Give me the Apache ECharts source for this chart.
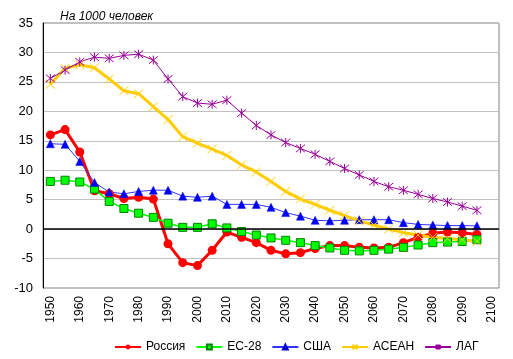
<!DOCTYPE html>
<html><head><meta charset="utf-8">
<script src="https://cdn.jsdelivr.net/npm/echarts@6/dist/echarts.min.js"></script>
<style>html,body{margin:0;padding:0;background:#fff}#c{width:513px;height:359px}</style>
</head><body><div id="c"></div>
<script>
var years = [];
for (var y = 1950; y <= 2100; y += 5) years.push(String(y));
var russia = [16.0,16.9,13.1,6.5,6.0,5.2,5.4,5.1,-2.5,-5.7,-6.2,-3.6,-0.5,-1.4,-2.3,-3.6,-4.2,-4.0,-3.3,-2.8,-2.8,-3.1,-3.2,-3.1,-2.3,-1.4,-0.7,-0.5,-0.6,-0.9];
var eu28 = [8.1,8.3,8.0,6.8,4.7,3.5,2.7,2.0,1.0,0.3,0.3,0.9,0.2,-0.4,-1.0,-1.5,-1.9,-2.3,-2.8,-3.2,-3.6,-3.7,-3.6,-3.4,-3.1,-2.7,-2.3,-2.2,-2.1,-1.8];
var usa = [14.5,14.4,11.5,7.9,6.3,6.0,6.4,6.6,6.6,5.6,5.4,5.6,4.2,4.2,4.2,3.7,2.8,2.2,1.5,1.4,1.5,1.6,1.6,1.6,1.1,0.8,0.7,0.6,0.6,0.55];
var asean = [24.6,27.3,27.9,27.4,25.5,23.5,23.0,20.8,18.6,15.7,14.6,13.6,12.5,10.9,9.7,8.1,6.4,5.1,4.2,3.2,2.3,1.4,0.7,0.0,-0.6,-1.0,-1.4,-1.6,-1.8,-2.1];
var lag = [25.6,27.0,28.4,29.2,29.0,29.5,29.7,28.7,25.5,22.5,21.4,21.2,21.9,19.7,17.6,16.0,14.7,13.7,12.7,11.5,10.3,9.2,8.1,7.2,6.6,5.9,5.2,4.6,3.9,3.2];
var yTicks = {min: -10, max: 35, interval: 5};

var font = '"Liberation Sans", Arial, sans-serif';
var chart = echarts.init(document.getElementById('c'), null, {renderer: 'canvas'});
chart.setOption({
  animation: false,
  textStyle: {fontFamily: font},
  title: {text: 'На 1000 человек', left: 55, top: 6,
    textStyle: {fontFamily: font, fontSize: 12, fontStyle: 'italic', fontWeight: 'normal', color: '#000'}},
  grid: {left: 43, right: 14, top: 23, bottom: 71, show: true, borderColor: '#808080', borderWidth: 1, containLabel: false},
  legend: {left: 109, top: 336, itemWidth: 26, itemHeight: 6, itemGap: 10,
    textStyle: {fontFamily: font, fontSize: 12, color: '#000'},
    data: ['Россия','ЕС-28','США','АСЕАН','ЛАГ']},
  xAxis: {type: 'category', data: years, boundaryGap: true,
    axisLine: {show: false}, axisTick: {show: false},
    axisLabel: {rotate: 90, interval: 1, margin: 8, fontSize: 12, color: '#000', fontFamily: font},
    splitLine: {show: false}},
  yAxis: {type: 'value', min: yTicks.min, max: yTicks.max, interval: yTicks.interval,
    axisLine: {show: true, lineStyle: {color: '#000', width: 1}},
    axisTick: {show: false},
    axisLabel: {fontSize: 13, color: '#000', margin: 10, fontFamily: font},
    splitLine: {show: true, lineStyle: {color: '#c0c0c0', width: 1}}},
  series: [
    {name: 'Россия', type: 'line', data: russia, symbol: 'circle', symbolSize: 9, showAllSymbol: true,
      lineStyle: {color: '#ff0000', width: 3}, itemStyle: {color: '#ff0000'},
      markLine: {silent: true, symbol: 'none', label: {show: false},
        lineStyle: {color: '#000', width: 1.5, type: 'solid'}, data: [{yAxis: 0}]}},
    {name: 'ЕС-28', type: 'line', data: eu28, symbol: 'rect', symbolSize: 8, showAllSymbol: true,
      lineStyle: {color: '#00ff00', width: 1.5}, itemStyle: {color: '#00ff00', borderColor: '#008000', borderWidth: 1}},
    {name: 'США', type: 'line', data: usa, symbol: 'triangle', symbolSize: 8, showAllSymbol: true,
      lineStyle: {color: '#3333ff', width: 1}, itemStyle: {color: '#0000ff', borderColor: '#0000cc', borderWidth: 0.5}},
    {name: 'АСЕАН', type: 'line', data: asean, symbol: 'path://M0,0L10,10M10,0L0,10', symbolSize: 9, showAllSymbol: true,
      lineStyle: {color: '#ffcc00', width: 3}, itemStyle: {color: 'none', borderColor: '#ffcc00', borderWidth: 1}},
    {name: 'ЛАГ', type: 'line', data: lag, symbol: 'path://M0,0L10,10M10,0L0,10M5,-1L5,11', symbolSize: 9, showAllSymbol: true,
      lineStyle: {color: '#990099', width: 1}, itemStyle: {color: 'none', borderColor: '#990099', borderWidth: 1}}
  ]
});
</script></body></html>
